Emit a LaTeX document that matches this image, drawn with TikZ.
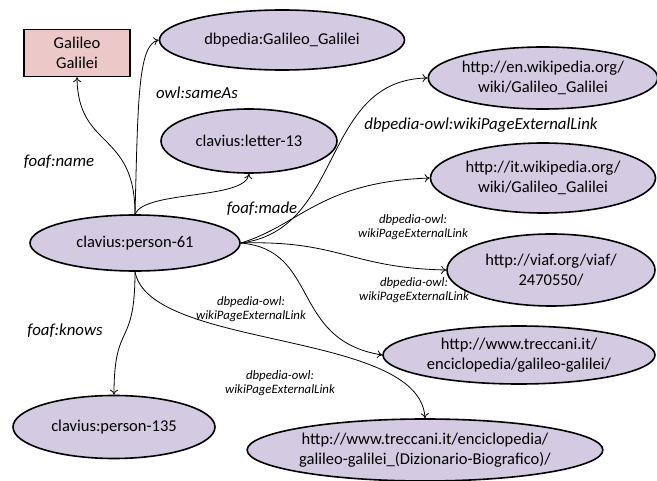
\documentclass[tikz,border=0pt]{standalone}
\usepackage{fontspec}
\setmainfont{Carlito}
\usetikzlibrary{shapes.geometric,arrows.meta}
\definecolor{ellfill}{RGB}{212,202,226}
\definecolor{rectfill}{RGB}{236,200,200}
\begin{document}
\begin{tikzpicture}[x=1pt,y=-1pt,
  ell/.style={ellipse,draw=black,line width=1.6pt,fill=ellfill,inner sep=0pt,align=center,font=\fontsize{16.5}{20}\selectfont},
  lit/.style={rectangle,draw=black,line width=1.4pt,fill=rectfill,inner sep=0pt,align=center,font=\fontsize{16.5}{20}\selectfont},
  edge/.style={line width=0.8pt,-{To[length=5pt,width=8pt]}},
  lbl/.style={font=\fontsize{16.8}{19}\selectfont\itshape,inner sep=0pt},
  slbl/.style={font=\fontsize{12.8}{14}\selectfont\itshape,inner sep=0pt,align=center}]
\useasboundingbox (0,0) rectangle (657,481);
\node[lit,minimum width=106pt,minimum height=47pt] (gal) at (77,53) {Galileo\\Galilei};
\node[ell,minimum width=245pt,minimum height=60pt] (dbp) at (282,40) {dbpedia:Galileo\_Galilei};
\node[ell,minimum width=176pt,minimum height=64pt] (let) at (249,141) {clavius:letter-13};
\node[ell,minimum width=210pt,minimum height=56pt] (p61) at (135,243) {clavius:person-61};
\node[ell,minimum width=202pt,minimum height=63pt] (p135) at (114,427) {clavius:person-135};
\node[ell,minimum width=225pt,minimum height=62pt] (en) at (543,78) {http://en.wikipedia.org/\\wiki/Galileo\_Galilei};
\node[ell,minimum width=225pt,minimum height=70pt] (it) at (543,178) {http://it.wikipedia.org/\\wiki/Galileo\_Galilei};
\node[ell,minimum width=208pt,minimum height=72pt] (viaf) at (551,270) {http://viaf.org/viaf/\\2470550/};
\node[ell,minimum width=272pt,minimum height=58pt] (tre1) at (519,355) {http://www.treccani.it/\\enciclopedia/galileo-galilei/};
\node[ell,minimum width=350pt,minimum height=62pt] (tre2) at (425,450) {http://www.treccani.it/enciclopedia/\\galileo-galilei\_(Dizionario-Biografico)/};

\coordinate (top) at (p61.north);
\coordinate (bot) at (p61.south);
\coordinate (rt) at (p61.east);

\draw[edge] (top) .. controls (135,130) and (78,150) .. (gal.south);
\draw[edge] (top) .. controls (138,100) and (138,45) .. (dbp.west);
\draw[edge] (top) .. controls (145,190) and (245,200) .. (let.south);
\draw[edge] (rt) .. controls (345,230) and (320,80) .. (en.west);
\draw[edge] (rt) .. controls (300,225) and (320,182) .. (it.west);
\draw[edge] (rt) .. controls (340,240) and (350,268) .. (viaf.west);
\draw[edge] (rt) .. controls (320,250) and (290,340) .. (tre1.west);
\draw[edge] (bot) .. controls (150,350) and (420,330) .. (tre2.north);
\draw[edge] (bot) .. controls (135,350) and (114,320) .. (p135.north);

\node[lbl] (l1) at (197,93) {owl:sameAs};
\node[lbl] (l2) at (59,162) {foaf:name};
\node[lbl] (l3) at (262,209) {foaf:made};
\node[lbl] (l4) at (65,331) {foaf:knows};
\node[lbl] (l5) at (481,125) {dbpedia-owl:wikiPageExternalLink};
\node[slbl] (l6) at (413,227) {dbpedia-owl:\\wikiPageExternalLink};
\node[slbl] (l7) at (414,290) {dbpedia-owl:\\wikiPageExternalLink};
\node[slbl] (l8) at (251,309) {dbpedia-owl:\\wikiPageExternalLink};
\node[slbl] (l9) at (280,383) {dbpedia-owl:\\wikiPageExternalLink};
\end{tikzpicture}
\end{document}
